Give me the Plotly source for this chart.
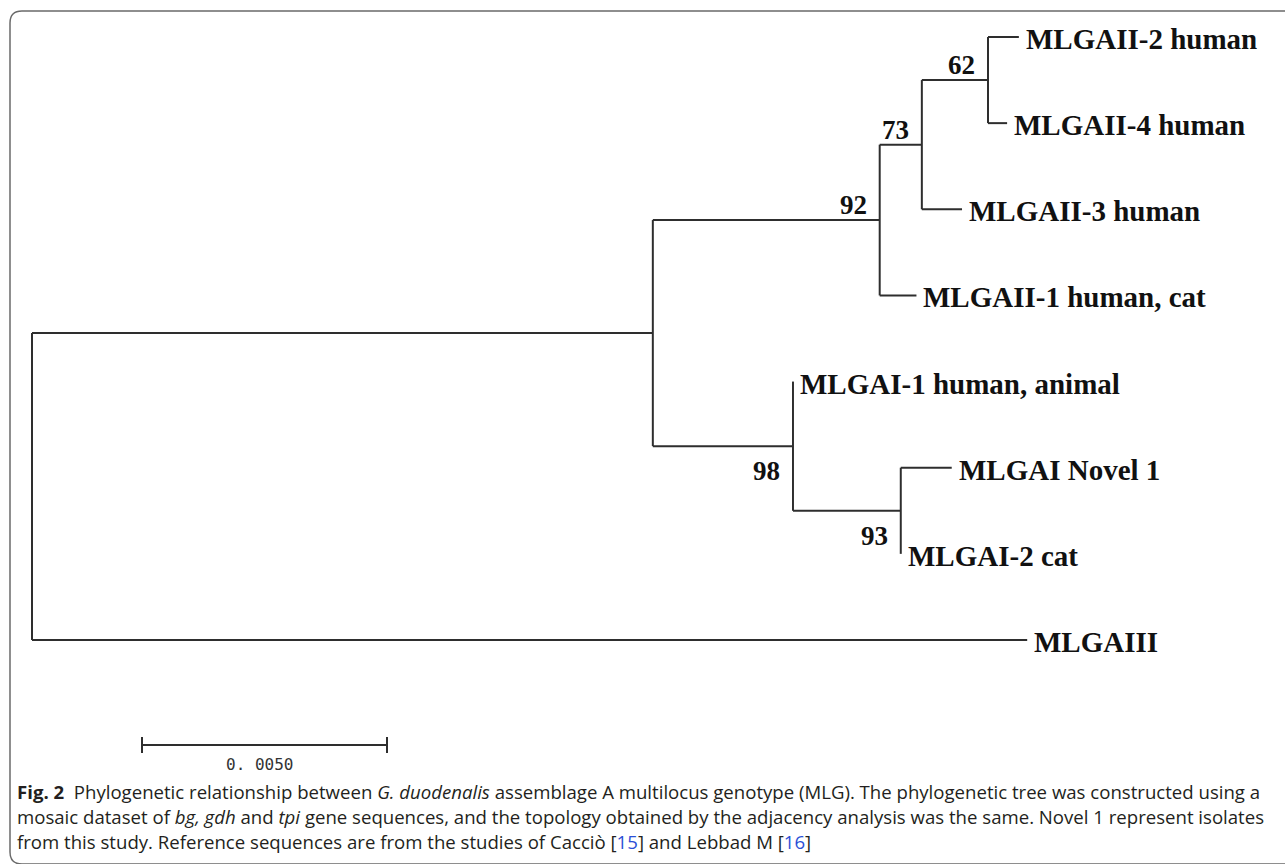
import plotly.graph_objects as go

# ---------------- data ----------------
node_names = ["root", "A", "n92", "n73", "n62",
              "MLGAII-2 human", "MLGAII-4 human", "MLGAII-3 human", "MLGAII-1 human, cat",
              "n98", "MLGAI-1 human, animal", "n93", "MLGAI Novel 1", "MLGAI-2 cat",
              "MLGAIII"]
node_parents = [None, "root", "A", "n92", "n73",
                "n62", "n62", "n73", "n92",
                "A", "n98", "n98", "n93", "n93",
                "root"]
branch_lengths = [0.0, 0.01267, 0.00463, 0.00086, 0.00135,
                  0.00063, 0.00039, 0.00082, 0.00075,
                  0.00286, 0.0, 0.00220, 0.00104, 0.0,
                  0.02031]
support_nodes = ["n62", "n73", "n92", "n98", "n93"]
support_values = [62, 73, 92, 98, 93]
support_side = ["above", "above", "above", "below", "below"]
scale_value = 0.005
scale_label = "0. 0050"
caption_lines = [
    "<b>Fig. 2</b>\u00a0\u00a0Phylogenetic relationship between <i>G. duodenalis</i> assemblage A multilocus genotype (MLG). The phylogenetic tree was constructed using a",
    "mosaic dataset of <i>bg, gdh</i> and <i>tpi</i> gene sequences, and the topology obtained by the adjacency analysis was the same. Novel 1 represent isolates",
    "from this study. Reference sequences are from the studies of Cacciò [<span style='color:#2b4fd6'>15</span>] and Lebbad M [<span style='color:#2b4fd6'>16</span>]",
]

# ---------------- layout of tree ----------------
W, H = 1285, 864
PX_PER_UNIT = 49000.0
ROOT_PX = 32.0
TOP_PX = 37.0
LEAF_STEP = (640.0 - 37.0) / 7.0


def px2x(px):
    return (px - ROOT_PX) / PX_PER_UNIT


def py2y(py):
    return (py - TOP_PX) / LEAF_STEP


children = {n: [] for n in node_names}
for n, p in zip(node_names, node_parents):
    if p is not None:
        children[p].append(n)
blen = dict(zip(node_names, branch_lengths))
parent = dict(zip(node_names, node_parents))

xpos, ypos = {}, {}
leaf_counter = [0]


def layout(n, depth):
    xpos[n] = depth
    if not children[n]:
        ypos[n] = leaf_counter[0]
        leaf_counter[0] += 1
    else:
        for c in children[n]:
            layout(c, depth + blen[c])
        ys = [ypos[c] for c in children[n]]
        ypos[n] = (min(ys) + max(ys)) / 2.0


layout("root", 0.0)

lx, ly = [], []
for n in node_names:
    p = parent[n]
    if p is not None:
        lx += [xpos[p], xpos[n], None]
        ly += [ypos[n], ypos[n], None]
    if children[n]:
        ys = [ypos[c] for c in children[n]]
        lx += [xpos[n], xpos[n], None]
        ly += [min(ys), max(ys), None]

LINE = "#2e2e2e"
fig = go.Figure()
fig.add_trace(go.Scatter(x=lx, y=ly, mode="lines",
                         line=dict(color=LINE, width=2), hoverinfo="skip",
                         showlegend=False))

# scale bar
sb_x0 = px2x(142)
sb_y = py2y(745)
tick = 8 / LEAF_STEP
fig.add_trace(go.Scatter(
    x=[sb_x0, sb_x0 + scale_value, None, sb_x0, sb_x0, None,
       sb_x0 + scale_value, sb_x0 + scale_value],
    y=[sb_y, sb_y, None, sb_y - tick, sb_y + tick, None, sb_y - tick, sb_y + tick],
    mode="lines", line=dict(color=LINE, width=2), hoverinfo="skip", showlegend=False))

annotations = []
annotations.append(dict(x=sb_x0 + scale_value / 2, y=sb_y, xref="x", yref="y",
                        text=scale_label, showarrow=False, xanchor="center",
                        yanchor="middle", yshift=-19, xshift=-5,
                        font=dict(family="DejaVu Sans Mono", size=16, color="#333333")))

LABEL_FONT = dict(family="Liberation Serif", size=29, color="#111111")
for n in node_names:
    if not children[n]:
        annotations.append(dict(x=xpos[n], y=ypos[n], xref="x", yref="y",
                                text="<b>%s</b>" % n, showarrow=False,
                                xanchor="left", yanchor="middle",
                                xshift=5, yshift=-2, font=LABEL_FONT))

NUM_FONT = dict(family="Liberation Serif", size=27, color="#111111")
for n, v, side in zip(support_nodes, support_values, support_side):
    annotations.append(dict(x=xpos[n], y=ypos[n], xref="x", yref="y",
                            text="<b>%d</b>" % v, showarrow=False,
                            xanchor="right", yanchor="middle",
                            xshift=-11, yshift=(15 if side == "above" else -25),
                            font=NUM_FONT))

CAP_FONT = dict(family="Open Sans", size=18.6, color="#231f20")
for i, t in enumerate(caption_lines):
    annotations.append(dict(x=15 / W, y=1 - (791 + 25 * i) / H, xref="paper", yref="paper",
                            text=t, showarrow=False, xanchor="left", yanchor="middle",
                            font=CAP_FONT))


def P(x, y):
    return "%.5f,%.5f" % (x / W, 1 - y / H)


frame_path = ("M " + P(1300, 11) + " L " + P(22, 11) + " Q " + P(10, 11) + " " + P(10, 23) +
              " L " + P(10, 852) + " Q " + P(10, 864) + " " + P(22, 864) + " L " + P(1300, 864))

fig.update_layout(
    width=W, height=H,
    margin=dict(l=0, r=0, t=0, b=0),
    paper_bgcolor="white", plot_bgcolor="white",
    xaxis=dict(range=[px2x(0), px2x(W)], visible=False, fixedrange=True),
    yaxis=dict(range=[py2y(H), py2y(0)], visible=False, fixedrange=True),
    annotations=annotations,
    shapes=[dict(type="path", xref="paper", yref="paper", path=frame_path,
                 line=dict(color="#6a6a6a", width=1.5))],
)

fig.write_html("out.html", config={"displayModeBar": False},
               post_script="document.body.style.margin='0';document.body.style.overflow='hidden';")
